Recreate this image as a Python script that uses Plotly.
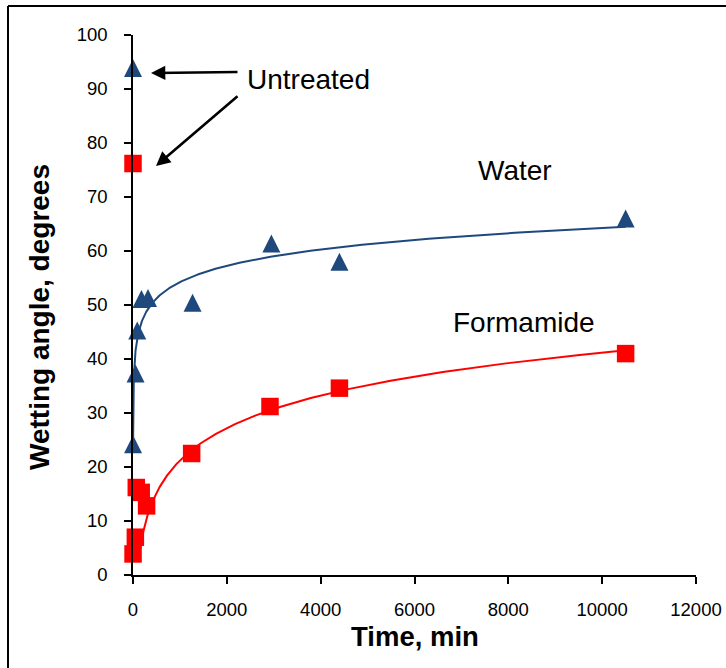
import numpy as np
import plotly.graph_objects as go

# ---- measured data -------------------------------------------------------
water_time = [1, 55, 90, 180, 320, 1270, 2950, 4400, 10500]          # min
water_angle = [24.2, 37.3, 45.3, 51.1, 51.3, 50.4, 61.4, 58.0, 66.0]  # degrees
water_untreated = 93.9

form_time = [1, 50, 70, 175, 290, 1250, 2920, 4400, 10500]            # min
form_angle = [3.9, 7.0, 16.2, 15.3, 12.8, 22.5, 31.2, 34.6, 41.0]     # degrees
form_untreated = 76.2

x_ticks = [0, 2000, 4000, 6000, 8000, 10000, 12000]
y_ticks = [0, 10, 20, 30, 40, 50, 60, 70, 80, 90, 100]

# ---- styling ------------------------------------------------------------
BLUE = "#1F497D"
RED = "#FF0000"
FONT = "Liberation Sans, Arial, sans-serif"
W, H = 726, 668
ML, MR, MT, MB = 133, 30, 35, 93
PW, PH = W - ML - MR, H - MT - MB


def px_to_paper(px, py):
    """Convert page pixel position to paper coordinates."""
    return (px - ML) / PW, (H - MB - py) / PH


def log_fit(t, y):
    """Least-squares fit y = a + b*ln(t); returns (a, b)."""
    b, a = np.polyfit(np.log(t), y, 1)
    return a, b


# logarithmic trend lines
wt, wa = np.array(water_time, float), np.array(water_angle, float)
a_w, b_w = log_fit(wt, wa)
t_w = np.geomspace(wt.min(), wt.max(), 400)
fit_w = a_w + b_w * np.log(t_w)

ft, fa = np.array(form_time, float), np.array(form_angle, float)
long_run = ft >= 1000
a_f, b_f = log_fit(ft[long_run], fa[long_run])
t_start = np.exp((fa.min() - a_f) / b_f)
t_f = np.geomspace(t_start, ft.max(), 400)
fit_f = a_f + b_f * np.log(t_f)

fig = go.Figure()

fig.add_trace(go.Scatter(x=t_w, y=fit_w, mode="lines",
                         line=dict(color=BLUE, width=2), hoverinfo="skip"))
fig.add_trace(go.Scatter(x=t_f, y=fit_f, mode="lines",
                         line=dict(color=RED, width=2), hoverinfo="skip"))

# upright triangle with equal width and height, centred on the point
tri = dict(symbol="arrow-down", angle=180, size=18, standoff=9,
           color=BLUE, line=dict(width=0))
sq = dict(symbol="square", size=17.5, color=RED, line=dict(width=0))

fig.add_trace(go.Scatter(x=[0] + water_time, y=[water_untreated] + water_angle,
                         mode="markers", marker=tri, cliponaxis=False, name="Water"))
fig.add_trace(go.Scatter(x=[0] + form_time, y=[form_untreated] + form_angle,
                         mode="markers", marker=sq, cliponaxis=False, name="Formamide"))

axis_common = dict(
    showgrid=False, zeroline=False, showline=True, linecolor="black", linewidth=1.6,
    ticks="outside", ticklen=7, tickwidth=1.6, tickcolor="black", automargin=False,
    tickfont=dict(family=FONT, size=18.5, color="black"),
)
fig.update_xaxes(range=[0, 12000], tickvals=x_ticks, ticktext=[str(v) for v in x_ticks],
                 ticklabelstandoff=10, **axis_common)
fig.update_yaxes(range=[0, 100], tickvals=y_ticks, ticktext=[str(v) for v in y_ticks],
                 ticklabelstandoff=13, **axis_common)

annotations = []
# axis titles
x0, y0 = px_to_paper(40, 317)
annotations.append(dict(xref="paper", yref="paper", x=x0, y=y0, text="<b>Wetting angle, degrees</b>",
                        textangle=-90, showarrow=False, xanchor="center", yanchor="middle",
                        font=dict(family=FONT, size=28, color="black")))
x0, y0 = px_to_paper(415, 636)
annotations.append(dict(xref="paper", yref="paper", x=x0, y=y0, text="<b>Time, min</b>",
                        showarrow=False, xanchor="center", yanchor="middle",
                        font=dict(family=FONT, size=27.5, color="black")))

# series labels
for label, (px, py) in [("Untreated", (308, 79)), ("Water", (515, 170)), ("Formamide", (524, 322))]:
    x0, y0 = px_to_paper(px, py)
    annotations.append(dict(xref="paper", yref="paper", x=x0, y=y0, text=label, showarrow=False,
                            xanchor="center", yanchor="middle",
                            font=dict(family=FONT, size=28, color="black")))

# arrows pointing at the untreated samples
for (hx, hy), (tx, ty) in [((151, 73), (239, 72)), ((156, 166), (239, 95))]:
    x0, y0 = px_to_paper(hx, hy)
    annotations.append(dict(xref="paper", yref="paper", x=x0, y=y0, text="", showarrow=True,
                            ax=tx - hx, ay=ty - hy, arrowhead=2, arrowsize=1.1, arrowwidth=2.6,
                            arrowcolor="black", standoff=0))

# outer frame: only the left and top edges fall inside the page
fx0, fy1 = px_to_paper(8, 6)
fx1, _ = px_to_paper(W + 20, 0)
_, fy0 = px_to_paper(0, H + 20)
frame = dict(color="black", width=2)
shapes = [
    dict(type="line", xref="paper", yref="paper", x0=fx0, y0=fy0, x1=fx0, y1=fy1, line=frame),
    dict(type="line", xref="paper", yref="paper", x0=fx0, y0=fy1, x1=fx1, y1=fy1, line=frame),
]

fig.update_layout(
    width=W, height=H, margin=dict(l=ML, r=MR, t=MT, b=MB, autoexpand=False),
    paper_bgcolor="white", plot_bgcolor="white", showlegend=False,
    annotations=annotations, shapes=shapes,
)

fig.write_html("out.html")
